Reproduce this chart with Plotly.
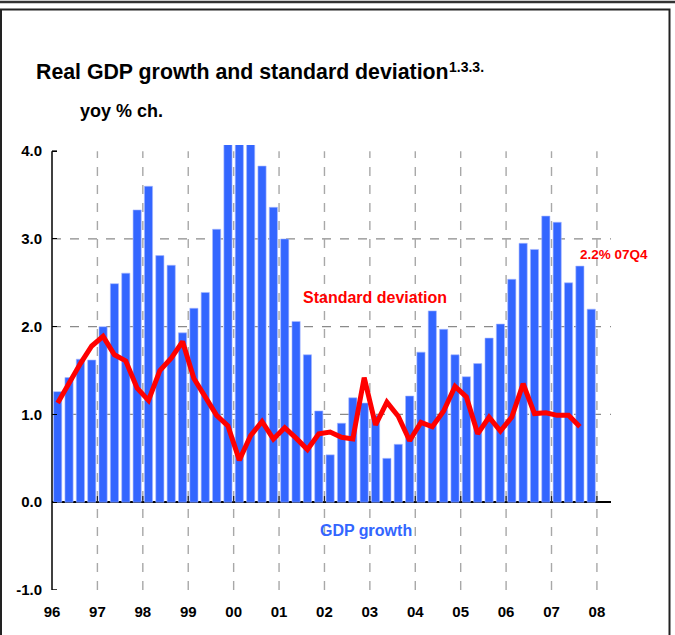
import plotly.graph_objects as go

# ---- data ----
years = list(range(1996, 2008))
quarters = [f"{str(y)[2:]}Q{q}" for y in years for q in range(1, 5)]
gdp_growth = [1.26, 1.42, 1.63, 1.62, 2.00, 2.49, 2.61, 3.33,
              3.60, 2.81, 2.70, 1.93, 2.21, 2.39, 3.11, 4.40,
              4.50, 4.40, 3.83, 3.36, 3.00, 2.06, 1.68, 1.04,
              0.54, 0.90, 1.19, 1.13, 0.99, 0.50, 0.66, 1.21,
              1.71, 2.18, 1.97, 1.68, 1.43, 1.58, 1.87, 2.03,
              2.54, 2.95, 2.88, 3.26, 3.19, 2.50, 2.69, 2.20]
std_dev = [1.13, 1.36, 1.58, 1.78, 1.89, 1.68, 1.61, 1.30,
           1.16, 1.50, 1.64, 1.83, 1.41, 1.20, 0.99, 0.87,
           0.48, 0.76, 0.92, 0.72, 0.85, 0.73, 0.60, 0.78,
           0.80, 0.74, 0.72, 1.42, 0.88, 1.14, 0.98, 0.70,
           0.91, 0.86, 1.04, 1.32, 1.20, 0.78, 0.97, 0.81,
           0.97, 1.35, 1.01, 1.02, 0.99, 0.99, 0.86]
tick_years = list(range(1996, 2009))
tick_labels = ["96", "97", "98", "99", "00", "01", "02", "03", "04", "05", "06", "07", "08"]
y_ticks = [-1, 0, 1, 2, 3, 4]
y_tick_labels = ["-1.0", "0.0", "1.0", "2.0", "3.0", "4.0"]
h_grid = [1, 2, 3]

# numeric x for quarters (centre of each quarter)
def qpos(label):
    yy = int(label[:2]); q = int(label[3])
    year = 1900 + yy if yy > 50 else 2000 + yy
    return year + (q - 0.5) / 4

x_q = [qpos(q) for q in quarters]

FONT = "Liberation Sans, Arial, sans-serif"
W, H = 675, 635
ML, MR, MT, MB = 52, 64, 145, 45
PW, PH = W - ML - MR, H - MT - MB

def px(xp):
    return (xp - ML) / PW

def py(yp):
    return 1 - (yp - MT) / PH

fig = go.Figure()
fig.add_trace(go.Bar(x=x_q, y=gdp_growth, width=0.18,
                     marker=dict(color="#3366ff", line=dict(color="#a8b8ff", width=0.6)),
                     name="GDP growth", hoverinfo="x+y"))
fig.add_trace(go.Scatter(x=x_q[:len(std_dev)], y=std_dev, mode="lines",
                         line=dict(color="#ff0000", width=5),
                         name="Standard deviation"))

shapes = []
# horizontal dashed gridlines
for g in h_grid:
    shapes.append(dict(type="line", xref="paper", yref="y", x0=0, x1=1, y0=g, y1=g,
                       line=dict(color="#8a8a8a", width=1.2, dash="dash"), layer="below"))
# vertical dashed gridlines
for yr in tick_years[1:]:
    shapes.append(dict(type="line", xref="x", yref="y", x0=yr, x1=yr, y0=-1, y1=4,
                       line=dict(color="#a8a8a8", width=1.4, dash="dash"), layer="below"))
    # small ticks on zero line
    shapes.append(dict(type="line", xref="x", yref="y", x0=yr, x1=yr, y0=0, y1=0.07,
                       line=dict(color="#222222", width=1.2)))
# y axis line from -1 to 4
shapes.append(dict(type="line", xref="paper", yref="y", x0=0, x1=0, y0=-1, y1=4,
                   line=dict(color="#000000", width=1.5)))
shapes.append(dict(type="line", xref="paper", yref="y", x0=0, x1=px(57), y0=4, y1=4,
                   line=dict(color="#000000", width=1.5)))
shapes.append(dict(type="line", xref="paper", yref="y", x0=0, x1=px(57), y0=-1, y1=-1,
                   line=dict(color="#000000", width=1.5)))
# frame
shapes.append(dict(type="line", xref="paper", yref="paper", x0=px(0), x1=px(675), y0=py(2), y1=py(2),
                   line=dict(color="#333333", width=2.5)))
shapes.append(dict(type="rect", xref="paper", yref="paper", x0=px(1), x1=px(669.5), y0=py(660), y1=py(9.5),
                   line=dict(color="#222222", width=2)))

annotations = [
    dict(xref="paper", yref="paper", x=px(34), y=py(72), xanchor="left", yanchor="middle",
         text="<b>Real GDP growth and standard deviation</b>",
         font=dict(family=FONT, size=21.3, color="#000000"), showarrow=False),
    dict(xref="paper", yref="paper", x=px(447), y=py(67), xanchor="left", yanchor="middle",
         text="<b>1.3.3.</b>",
         font=dict(family=FONT, size=14, color="#000000"), showarrow=False),
    dict(xref="paper", yref="paper", x=px(78), y=py(111), xanchor="left", yanchor="middle",
         text="<b>yoy % ch.</b>", font=dict(family=FONT, size=18, color="#000000"), showarrow=False),
    dict(xref="paper", yref="paper", x=px(375), y=py(297), xanchor="center", yanchor="middle",
         text="<b>Standard deviation</b>", font=dict(family=FONT, size=16, color="#ff0000"), showarrow=False),
    dict(xref="paper", yref="paper", x=px(366), y=py(530), xanchor="center", yanchor="middle",
         text="<b>GDP growth</b>", font=dict(family=FONT, size=16, color="#3366ff"), showarrow=False),
    dict(xref="paper", yref="paper", x=px(614), y=py(254), xanchor="center", yanchor="middle",
         text="<b>2.2% 07Q4</b>", font=dict(family=FONT, size=13.5, color="#ff0000"), showarrow=False),
]

fig.update_layout(
    width=W, height=H,
    margin=dict(l=ML, r=MR, t=MT, b=MB, autoexpand=False),
    paper_bgcolor="#ffffff", plot_bgcolor="#ffffff",
    showlegend=False, bargap=0.3,
    shapes=shapes, annotations=annotations,
    font=dict(family=FONT, color="#000000"),
    xaxis=dict(range=[1996, 2008.31], tickvals=tick_years, ticktext=[f"<b>{t}</b>" for t in tick_labels],
               showgrid=False, zeroline=False, showline=False, ticks="",
               tickfont=dict(family=FONT, size=15, color="#000000"), ticklabelstandoff=11),
    yaxis=dict(range=[-1, 4.07], tickvals=y_ticks, ticktext=[f"<b>{t}</b>" for t in y_tick_labels],
               showgrid=False, zeroline=True, zerolinecolor="#000000", zerolinewidth=1.5,
               showline=False, ticks="inside", ticklen=5, tickcolor="#000000", tickwidth=1.2,
               tickfont=dict(family=FONT, size=15, color="#000000"), ticklabelstandoff=9),
)

fig.write_html("out.html", config={"displayModeBar": False},
               post_script="document.body.style.margin='0';document.body.style.overflow='hidden';")
